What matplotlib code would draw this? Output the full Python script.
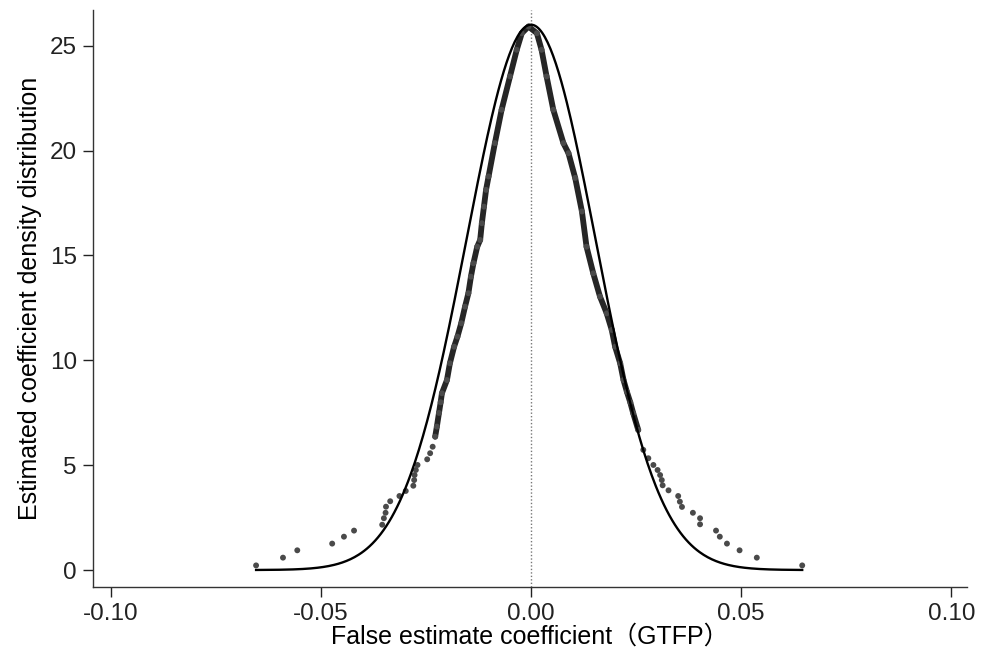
import numpy as np
import matplotlib
matplotlib.use('Agg')
import matplotlib.pyplot as plt

# placebo estimates (x) and their kernel density (y)
coef = [-0.0654, -0.0590, -0.0556, -0.0473, -0.0445, -0.0421, -0.0354, -0.0350,
        -0.0346, -0.0345, -0.0335, -0.0313, -0.0298, -0.0280, -0.0278, -0.0277,
        -0.0274, -0.0270, -0.0247, -0.0240, -0.0234, -0.0228, -0.0224, -0.0219,
        -0.0215, -0.0212, -0.0200, -0.0193, -0.0183, -0.0175, -0.0166, -0.0157,
        -0.0149, -0.0143, -0.0137, -0.0128, -0.0121, -0.0117, -0.0112, -0.0107,
        -0.0101, -0.0086, -0.0070, -0.0050, -0.0034, -0.0022, -0.0006,
        0.0014, 0.0025, 0.0037, 0.0053, 0.0077, 0.0089, 0.0105, 0.0121,
        0.0132, 0.0148, 0.0164, 0.0180, 0.0192, 0.0200, 0.0212, 0.0220,
        0.0228, 0.0236, 0.0243, 0.0255, 0.0267, 0.0279, 0.0291, 0.0301,
        0.0307, 0.0311, 0.0313, 0.0327, 0.0350, 0.0354, 0.0359, 0.0385,
        0.0402, 0.0402, 0.0440, 0.0449, 0.0466, 0.0496, 0.0537, 0.0645]
dens = [0.22, 0.59, 0.94, 1.26, 1.59, 1.88, 2.16, 2.47,
        2.73, 3.02, 3.28, 3.53, 3.77, 4.02, 4.29, 4.53,
        4.77, 5.01, 5.28, 5.57, 5.88, 6.36, 6.84, 7.49,
        8.00, 8.43, 9.06, 9.86, 10.65, 11.13, 11.77, 12.56,
        13.20, 13.99, 14.63, 15.42, 15.74, 16.54, 17.33, 18.13,
        18.77, 20.36, 21.95, 23.54, 24.81, 25.60, 25.92,
        25.60, 24.81, 23.54, 21.95, 20.36, 19.88, 18.70, 17.10,
        15.42, 14.15, 13.04, 12.24, 11.45, 10.65, 9.86, 9.06,
        8.50, 8.00, 7.48, 6.68, 5.73, 5.33, 5.01, 4.77,
        4.53, 4.29, 4.04, 3.80, 3.53, 3.26, 3.01, 2.73,
        2.47, 2.18, 1.88, 1.59, 1.26, 0.94, 0.59, 0.22]

# fitted normal overlay
norm_mean = 0.0
norm_sd = 0.01534

xticks = [-0.10, -0.05, 0.00, 0.05, 0.10]
yticks = [0, 5, 10, 15, 20, 25]

plt.rcParams['font.family'] = ['Liberation Sans', 'Noto Sans CJK SC', 'DejaVu Sans']

coef = np.array(coef)
dens = np.array(dens)

fig = plt.figure(figsize=(9.91, 6.6), dpi=100)
ax = fig.add_axes([0.0938, 0.1106, 0.882, 0.874])

# dense core of the kernel points reads as a solid band
core = dens > 6
ax.plot(coef[core], dens[core], color='#262626', lw=4.2, solid_capstyle='round',
        solid_joinstyle='round', zorder=2)
ax.scatter(coef, dens, s=18, color='#4a4a4a', edgecolors='none', zorder=3)

xs = np.linspace(coef.min(), coef.max(), 400)
ys = np.exp(-0.5 * ((xs - norm_mean) / norm_sd) ** 2) / (norm_sd * np.sqrt(2 * np.pi))
ax.plot(xs, ys, color='black', lw=1.7, zorder=4)

ax.axvline(0, color='#777777', lw=1.0, ls=(0, (1, 1.5)), zorder=1)

ax.set_xlim(-0.1042, 0.1037)
ax.set_ylim(-0.81, 26.7)
ax.set_xticks(xticks)
ax.set_xticklabels([f'{t:.2f}' for t in xticks])
ax.set_yticks(yticks)
ax.tick_params(direction='out', length=7, width=1, labelsize=17.5, colors='#222222', pad=4.5)
for s in ['top', 'right']:
    ax.spines[s].set_visible(False)
for s in ['left', 'bottom']:
    ax.spines[s].set_color('#333333')
    ax.spines[s].set_linewidth(1.0)

ax.set_xlabel('False estimate coefficient（GTFP）', fontsize=18, labelpad=0)
ax.set_ylabel('Estimated coefficient density distribution', fontsize=18, labelpad=6)

fig.savefig('out.png', dpi=100)
